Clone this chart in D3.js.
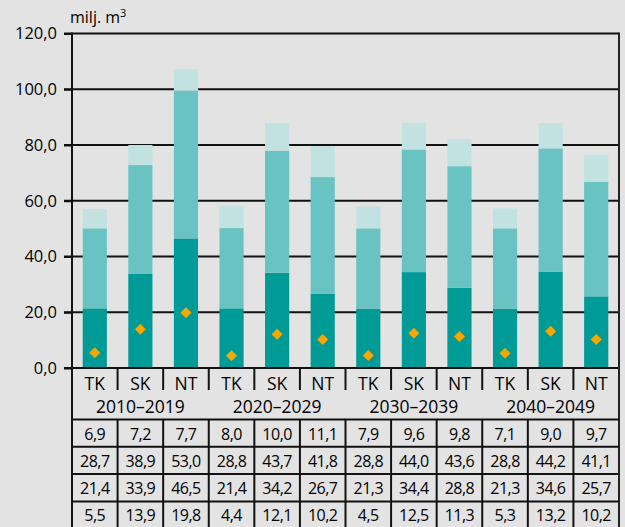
<!DOCTYPE html>
<html>
<head>
<meta charset="utf-8">
<script src="https://cdn.jsdelivr.net/npm/d3@7"></script>
<style>
  body { margin: 0; background: #e3e3e3; }
  svg { display: block; font-family: "Open Sans", sans-serif; }
</style>
</head>
<body>
<script>
var periods = ["2010\u20132019", "2020\u20132029", "2030\u20132039", "2040\u20132049"];
var types = ["TK", "SK", "NT"];
var topPart = [6.9, 7.2, 7.7, 8.0, 10.0, 11.1, 7.9, 9.6, 9.8, 7.1, 9.0, 9.7];
var midPart = [28.7, 38.9, 53.0, 28.8, 43.7, 41.8, 28.8, 44.0, 43.6, 28.8, 44.2, 41.1];
var lowPart = [21.4, 33.9, 46.5, 21.4, 34.2, 26.7, 21.3, 34.4, 28.8, 21.3, 34.6, 25.7];
var marks = [5.5, 13.9, 19.8, 4.4, 12.1, 10.2, 4.5, 12.5, 11.3, 5.3, 13.2, 10.2];
var yTicks = [0, 20, 40, 60, 80, 100, 120];

var width = 625, height = 527;
var left = 72, right = 619, plotTop = 33.5, zeroY = 368;

var rows = [];
periods.forEach(function (p, i) {
  types.forEach(function (t, j) {
    var k = i * 3 + j;
    rows.push({ idx: k, period: p, type: t, low: lowPart[k], mid: midPart[k], top: topPart[k], mark: marks[k] });
  });
});

var svg = d3.select("body").append("svg")
  .attr("width", width)
  .attr("height", height);

var x = d3.scaleBand().domain(d3.range(rows.length)).range([left, right]).paddingInner(0.47).paddingOuter(0.235);
var xb = d3.scaleBand().domain(d3.range(rows.length)).range([left, right]);
var y = d3.scaleLinear().domain([0, 120]).range([zeroY, plotTop]);

var fmt = function (v) { return d3.format(".1f")(v).replace(".", ","); };

// grid
svg.append("g").selectAll("line").data(yTicks).enter().append("line")
  .attr("x1", left - 8).attr("x2", right)
  .attr("y1", function (d) { return y(d); })
  .attr("y2", function (d) { return y(d); })
  .attr("stroke", "#111").attr("stroke-width", 2);

// bars
var stack = d3.stack().keys(["low", "mid", "top"]);
var colors = { low: "#009a97", mid: "#69c3c3", top: "#c1e2e1" };
var layers = stack(rows);
svg.append("g").selectAll("g").data(layers).enter().append("g")
  .attr("fill", function (d) { return colors[d.key]; })
  .selectAll("rect").data(function (d) { return d; }).enter().append("rect")
  .attr("x", function (d) { return x(d.data.idx); })
  .attr("width", x.bandwidth())
  .attr("y", function (d) { return y(d[1]); })
  .attr("height", function (d) { return y(d[0]) - y(d[1]); });

// diamonds
svg.append("g").selectAll("path").data(rows).enter().append("path")
  .attr("d", d3.symbol().type(d3.symbolDiamond2).size(78))
  .attr("transform", function (d) {
    return "translate(" + (x(d.idx) + x.bandwidth() / 2) + "," + y(d.mark) + ")";
  })
  .attr("fill", "#f6a800");

// axis
var yAxis = d3.axisLeft(y).tickValues(yTicks).tickSize(8).tickFormat(fmt);
var ag = svg.append("g").attr("transform", "translate(" + left + ",0)").call(yAxis);
ag.select(".domain").remove();
ag.selectAll(".tick line").attr("stroke", "#111").attr("stroke-width", 2);
ag.selectAll(".tick text")
  .attr("x", -15)
  .attr("font-size", 16.5)
  .attr("font-family", "Open Sans, sans-serif")
  .attr("fill", "#000");

svg.append("line")
  .attr("x1", left).attr("x2", right).attr("y1", zeroY).attr("y2", zeroY)
  .attr("stroke", "#111").attr("stroke-width", 2);

svg.append("line")
  .attr("x1", left).attr("x2", left).attr("y1", plotTop - 1).attr("y2", height)
  .attr("stroke", "#111").attr("stroke-width", 2);
svg.append("line")
  .attr("x1", right).attr("x2", right).attr("y1", plotTop - 1).attr("y2", height)
  .attr("stroke", "#222").attr("stroke-width", 2);

svg.append("text")
  .attr("x", 70).attr("y", 23)
  .attr("font-size", 16)
  .attr("fill", "#000")
  .text("milj. m")
  .append("tspan").attr("dy", -6).attr("font-size", 11).text("3");

// category labels
svg.append("g").selectAll("line").data(d3.range(1, rows.length)).enter().append("line")
  .attr("x1", function (d) { return xb(d); })
  .attr("x2", function (d) { return xb(d); })
  .attr("y1", zeroY).attr("y2", 390)
  .attr("stroke", "#111").attr("stroke-width", 2);

svg.append("g").selectAll("text").data(rows).enter().append("text")
  .attr("x", function (d) { return xb(d.idx) + xb.bandwidth() / 2; })
  .attr("y", 390)
  .attr("text-anchor", "middle")
  .attr("font-size", 17.5)
  .attr("fill", "#000")
  .text(function (d) { return d.type; });

svg.append("g").selectAll("text").data(periods).enter().append("text")
  .attr("x", function (d, i) { return xb(i * 3) + xb.bandwidth() * 1.5; })
  .attr("y", 413)
  .attr("text-anchor", "middle")
  .attr("font-size", 17.5)
  .attr("fill", "#000")
  .text(function (d) { return d; });

// table
var tableRows = [topPart, midPart, lowPart, marks];
var rowTop = 419.5, rowH = 27.3;
var tg = svg.append("g");
tg.selectAll("line.h").data(d3.range(tableRows.length + 1)).enter().append("line")
  .attr("x1", left).attr("x2", right)
  .attr("y1", function (d) { return rowTop + d * rowH; })
  .attr("y2", function (d) { return rowTop + d * rowH; })
  .attr("stroke", "#111").attr("stroke-width", 2);
tg.selectAll("line.v").data(d3.range(1, rows.length)).enter().append("line")
  .attr("x1", function (d) { return xb(d); })
  .attr("x2", function (d) { return xb(d); })
  .attr("y1", rowTop).attr("y2", height)
  .attr("stroke", "#111").attr("stroke-width", 2);

tableRows.forEach(function (vals, r) {
  tg.append("g").selectAll("text").data(vals).enter().append("text")
    .attr("x", function (d, i) { return xb(i) + xb.bandwidth() / 2; })
    .attr("y", rowTop + r * rowH + 20)
    .attr("text-anchor", "middle")
    .attr("font-size", 16)
    .attr("letter-spacing", -0.5)
    .attr("fill", "#000")
    .text(function (d) { return fmt(d); });
});
</script>
</body>
</html>
